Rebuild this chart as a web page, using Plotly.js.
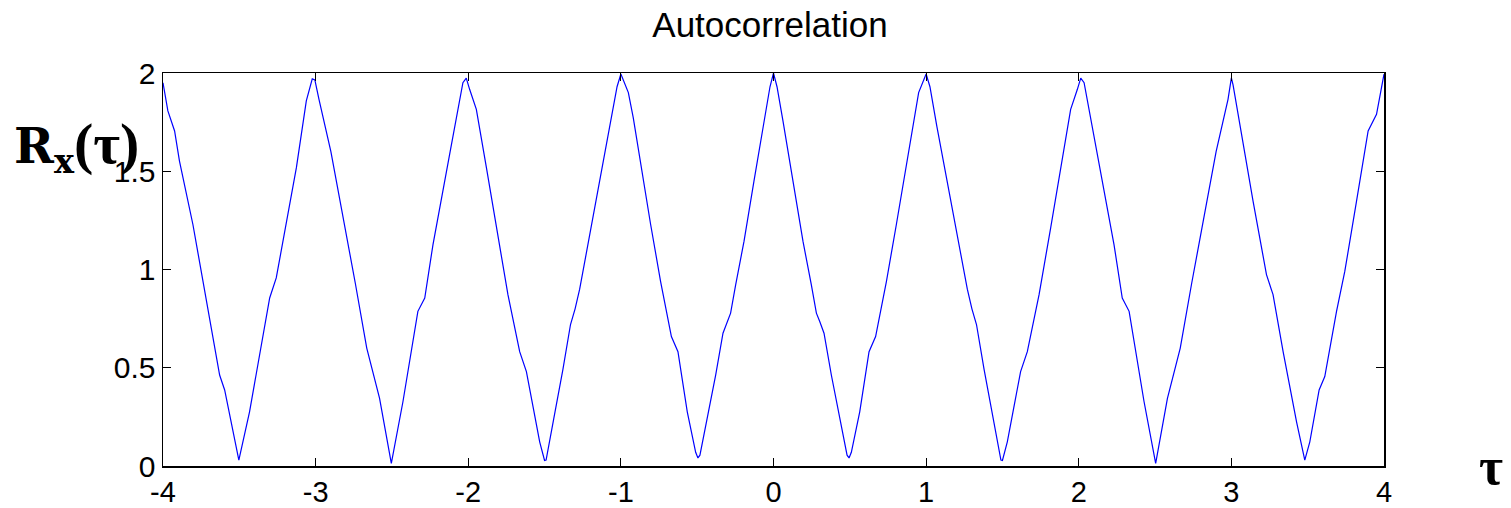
<!DOCTYPE html>
<html>
<head>
<meta charset="utf-8">
<script src="https://cdn.plot.ly/plotly-3.0.1.min.js"></script>
<style>html,body{margin:0;padding:0;background:#fff;}#chart{width:1511px;height:508px;}</style>
</head>
<body>
<div id="chart"></div>
<script>
// Lag values (tau) and autocorrelation values
const tau = [
 -4.000,-3.968,-3.924,-3.892,-3.804,-3.738,-3.673,-3.629,-3.596,-3.553,-3.503,
 -3.433,-3.367,-3.301,-3.258,-3.192,-3.126,-3.061,-3.022,-3.005,
 -2.978,-2.900,-2.820,-2.740,-2.665,-2.645,-2.581,-2.504,
 -2.428,-2.330,-2.285,-2.231,-2.177,-2.122,-2.035,-2.013,
 -1.991,-1.947,-1.881,-1.816,-1.740,-1.663,-1.619,-1.575,-1.532,-1.500,
 -1.490,-1.440,-1.380,-1.330,-1.300,-1.270,-1.210,-1.140,-1.070,-1.025,-1.000,
 -0.951,-0.919,-0.871,-0.805,-0.740,-0.669,-0.626,-0.565,-0.510,-0.495,
 -0.482,-0.434,-0.379,-0.331,-0.303,-0.281,-0.248,-0.193,-0.128,-0.062,-0.023,0.000,
 0.023,0.062,0.128,0.193,0.248,0.281,0.303,0.331,0.379,0.434,0.482,0.495,
 0.510,0.565,0.626,0.669,0.740,0.805,0.871,0.919,0.951,1.000,
 1.025,1.070,1.140,1.210,1.270,1.300,1.330,1.380,1.440,1.490,1.500,
 1.532,1.575,1.619,1.663,1.740,1.816,1.881,1.947,1.991,2.013,
 2.035,2.122,2.177,2.231,2.285,2.330,2.428,2.504,
 2.581,2.645,2.665,2.740,2.820,2.900,2.978,3.000,
 3.011,3.077,3.142,3.230,3.273,3.339,3.427,3.481,
 3.514,3.575,3.612,3.689,3.743,3.820,3.896,3.951,4.000
];
const Rx = [
 1.950,1.807,1.705,1.552,1.229,0.940,0.668,0.463,0.387,0.225,0.030,
 0.276,0.566,0.855,0.957,1.229,1.518,1.858,1.970,1.965,
 1.866,1.600,1.270,0.930,0.600,0.540,0.344,0.013,
 0.327,0.787,0.855,1.127,1.348,1.586,1.951,1.974,
 1.917,1.815,1.518,1.212,0.872,0.582,0.480,0.300,0.123,0.028,
 0.030,0.240,0.490,0.720,0.800,0.900,1.150,1.440,1.730,1.930,1.995,
 1.900,1.773,1.535,1.229,0.940,0.659,0.582,0.276,0.070,0.041,
 0.055,0.242,0.463,0.676,0.735,0.778,0.922,1.144,1.450,1.756,1.930,2.000,
 1.930,1.756,1.450,1.144,0.922,0.778,0.735,0.676,0.463,0.242,0.055,0.041,
 0.070,0.276,0.582,0.659,0.940,1.229,1.535,1.773,1.900,1.995,
 1.930,1.730,1.440,1.150,0.900,0.800,0.720,0.490,0.240,0.030,0.028,
 0.123,0.300,0.480,0.582,0.872,1.212,1.518,1.815,1.917,1.974,
 1.951,1.586,1.348,1.127,0.855,0.787,0.327,0.013,
 0.344,0.540,0.600,0.930,1.270,1.600,1.866,1.975,
 1.940,1.637,1.348,0.974,0.872,0.582,0.225,0.030,
 0.123,0.387,0.455,0.787,0.990,1.348,1.705,1.790,1.994
];
const xTicks = [-4,-3,-2,-1,0,1,2,3,4];
const yTicks = [0,0.5,1,1.5,2];
const yTickText = ['0','0.5','1','1.5','2'];

const trace = {
  x: tau, y: Rx, type: 'scatter', mode: 'lines',
  line: {color: '#0000ff', width: 1.2},
  hoverinfo: 'skip', showlegend: false
};

const axisCommon = {
  showgrid: false, zeroline: false, showline: true, linecolor: '#000', linewidth: 1.5,
  mirror: 'ticks', ticks: 'inside', ticklen: 8, tickwidth: 1.2, tickcolor: '#000',
  tickfont: {family: 'Liberation Sans, Arial, sans-serif', size: 30, color: '#000'}
};

const layout = {
  width: 1511, height: 508,
  paper_bgcolor: '#fff', plot_bgcolor: '#fff',
  margin: {l: 163, r: 127, t: 73, b: 42, pad: 0},
  title: {
    text: 'Autocorrelation',
    font: {family: 'Liberation Sans, Arial, sans-serif', size: 35, color: '#000'},
    x: 0.5096, xref: 'container', xanchor: 'center',
    y: 0.952, yref: 'container', yanchor: 'middle'
  },
  xaxis: Object.assign({}, axisCommon, {
    range: [-4, 4], tickmode: 'array', tickvals: xTicks,
    ticktext: xTicks.map(String),
    tickfont: {family: 'Liberation Sans, Arial, sans-serif', size: 29, color: '#000'}
  }),
  yaxis: Object.assign({}, axisCommon, {
    range: [0, 2], tickmode: 'array', tickvals: yTicks, ticktext: yTickText
  }),
  annotations: [
    {
      text: '<b>R<sub>x</sub><span style="font-family:Liberation Serif,serif;font-size:58px">(τ)</span></b>',
      xref: 'paper', yref: 'paper',
      x: -0.124, y: 0.815, xanchor: 'left', yanchor: 'middle', showarrow: false,
      font: {family: 'DejaVu Serif, serif', size: 48, color: '#000'}
    },
    {
      text: '<b>τ</b>', xref: 'paper', yref: 'paper',
      x: 1.088, y: 0.0, xanchor: 'center', yanchor: 'middle', showarrow: false,
      font: {family: 'Liberation Serif, serif', size: 52, color: '#000'}
    }
  ]
};

Plotly.newPlot('chart', [trace], layout, {staticPlot: true, displayModeBar: false});
</script>
</body>
</html>
